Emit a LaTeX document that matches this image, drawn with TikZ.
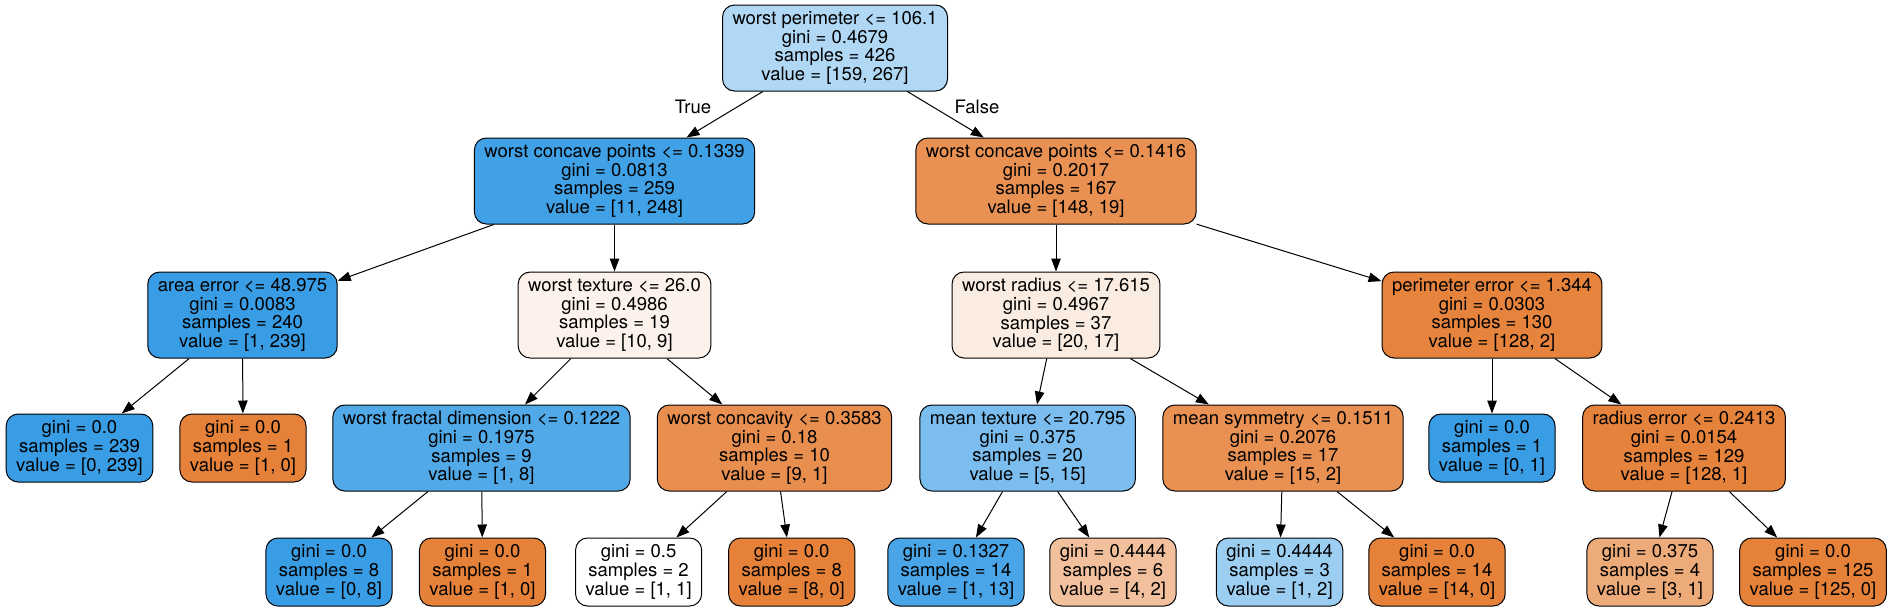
\documentclass[tikz,border=0pt]{standalone}
\usepackage{fontspec}
\setmainfont{TeX Gyre Heros}
\usetikzlibrary{arrows.meta}

\definecolor{clsblue}{RGB}{57,157,229}
\definecolor{clsorange}{RGB}{229,129,57}

\tikzset{
  tnode/.style={draw=black, line width=1pt, rectangle, rounded corners=12pt, align=center,
    inner xsep=10pt, font=\fontsize{18.5}{18.7}\selectfont},
  split/.style={tnode, minimum height=86pt},
  leaf/.style={tnode, minimum height=68pt},
  edge/.style={black, line width=1pt, -{Triangle[length=13pt,width=9.5pt]}},
  elabel/.style={font=\fontsize{18.5}{18.7}\selectfont}
}

\begin{document}
\begin{tikzpicture}[x=1pt, y=-1pt]
            \useasboundingbox (0,0) rectangle (1894,611);

            % splits
            \node[split, fill=clsblue!40!white] (root) at (835,48) {worst perimeter <= 106.1\\gini = 0.4679\\samples = 426\\value = [159, 267]};
            \node[split, fill=clsblue!96!white] (wcp1) at (614.5,181) {worst concave points <= 0.1339\\gini = 0.0813\\samples = 259\\value = [11, 248]};
            \node[split, fill=clsorange!87!white] (wcp2) at (1056,181) {worst concave points <= 0.1416\\gini = 0.2017\\samples = 167\\value = [148, 19]};
            \node[split, fill=clsblue] (area) at (242.5,315) {area error <= 48.975\\gini = 0.0083\\samples = 240\\value = [1, 239]};
            \node[split, fill=clsorange!10!white] (wtex) at (614.5,315) {worst texture <= 26.0\\gini = 0.4986\\samples = 19\\value = [10, 9]};
            \node[split, fill=clsorange!15!white] (wrad) at (1056,315) {worst radius <= 17.615\\gini = 0.4967\\samples = 37\\value = [20, 17]};
            \node[split, fill=clsorange!98!white] (perr) at (1492,315) {perimeter error <= 1.344\\gini = 0.0303\\samples = 130\\value = [128, 2]};
            \node[split, fill=clsblue!88!white] (wfd) at (481.5,448) {worst fractal dimension <= 0.1222\\gini = 0.1975\\samples = 9\\value = [1, 8]};
            \node[split, fill=clsorange!89!white] (wcon) at (774.5,448) {worst concavity <= 0.3583\\gini = 0.18\\samples = 10\\value = [9, 1]};
            \node[split, fill=clsblue!67!white] (mtex) at (1027.7,448) {mean texture <= 20.795\\gini = 0.375\\samples = 20\\value = [5, 15]};
            \node[split, fill=clsorange!87!white] (msym) at (1283,448) {mean symmetry <= 0.1511\\gini = 0.2076\\samples = 17\\value = [15, 2]};
            \node[split, fill=clsorange!99!white] (rerr) at (1684,448) {radius error <= 0.2413\\gini = 0.0154\\samples = 129\\value = [128, 1]};

            % leaves
            \node[leaf, fill=clsblue] (l239) at (79.5,448) {gini = 0.0\\samples = 239\\value = [0, 239]};
            \node[leaf, fill=clsorange] (l1a) at (243,448) {gini = 0.0\\samples = 1\\value = [1, 0]};
            \node[leaf, fill=clsblue] (l01) at (1492,448) {gini = 0.0\\samples = 1\\value = [0, 1]};
            \node[leaf, fill=clsblue] (l08) at (329,572) {gini = 0.0\\samples = 8\\value = [0, 8]};
            \node[leaf, fill=clsorange] (l10) at (482.5,572) {gini = 0.0\\samples = 1\\value = [1, 0]};
            \node[leaf, fill=white] (l11) at (638.6,572) {gini = 0.5\\samples = 2\\value = [1, 1]};
            \node[leaf, fill=clsorange] (l80) at (791.7,572) {gini = 0.0\\samples = 8\\value = [8, 0]};
            \node[leaf, fill=clsblue!92!white] (l113) at (956,572) {gini = 0.1327\\samples = 14\\value = [1, 13]};
            \node[leaf, fill=clsorange!50!white] (l42) at (1113,572) {gini = 0.4444\\samples = 6\\value = [4, 2]};
            \node[leaf, fill=clsblue!50!white] (l12) at (1279.6,572) {gini = 0.4444\\samples = 3\\value = [1, 2]};
            \node[leaf, fill=clsorange] (l140) at (1437,572) {gini = 0.0\\samples = 14\\value = [14, 0]};
            \node[leaf, fill=clsorange!67!white] (l31) at (1650,572) {gini = 0.375\\samples = 4\\value = [3, 1]};
            \node[leaf, fill=clsorange] (l1250) at (1813,572) {gini = 0.0\\samples = 125\\value = [125, 0]};

            % edges
            \draw[edge] (root) -- (wcp1);
            \draw[edge] (root) -- (wcp2);
            \draw[edge] (wcp1) -- (area);
            \draw[edge] (wcp1) -- (wtex);
            \draw[edge] (wcp2) -- (wrad);
            \draw[edge] (wcp2) -- (perr);
            \draw[edge] (area) -- (l239);
            \draw[edge] (area) -- (l1a);
            \draw[edge] (wtex) -- (wfd);
            \draw[edge] (wtex) -- (wcon);
            \draw[edge] (wrad) -- (mtex);
            \draw[edge] (wrad) -- (msym);
            \draw[edge] (perr) -- (l01);
            \draw[edge] (perr) -- (rerr);
            \draw[edge] (wfd) -- (l08);
            \draw[edge] (wfd) -- (l10);
            \draw[edge] (wcon) -- (l11);
            \draw[edge] (wcon) -- (l80);
            \draw[edge] (mtex) -- (l113);
            \draw[edge] (mtex) -- (l42);
            \draw[edge] (msym) -- (l12);
            \draw[edge] (msym) -- (l140);
            \draw[edge] (rerr) -- (l31);
            \draw[edge] (rerr) -- (l1250);

            \node[elabel] (truelbl) at (693,107) {True};
            \node[elabel] (falselbl) at (977,107) {False};
        \end{tikzpicture}
\end{document}
